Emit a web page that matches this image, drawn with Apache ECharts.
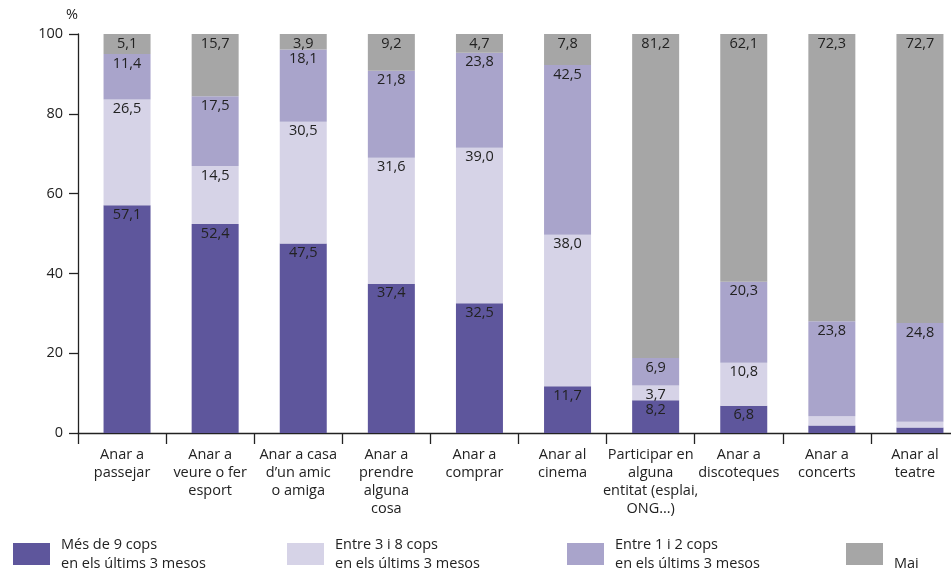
<!DOCTYPE html>
<html>
<head>
<meta charset="utf-8">
<script src="https://cdn.jsdelivr.net/npm/echarts@6/dist/echarts.min.js"></script>
<style>html,body{margin:0;padding:0;background:#fff;}#c{width:951px;height:570px;}</style>
</head>
<body>
<div id="c"></div>
<script>
var categories = [
  "Anar a\npassejar",
  "Anar a\nveure o fer\nesport",
  "Anar a casa\nd\u2019un amic\no amiga",
  "Anar a\nprendre\nalguna\ncosa",
  "Anar a\ncomprar",
  "Anar al\ncinema",
  "Participar en\nalguna\nentitat (esplai,\nONG...)",
  "Anar a\ndiscoteques",
  "Anar a\nconcerts",
  "Anar al\nteatre"
];
var seriesNames = [
  "Més de 9 cops\nen els últims 3 mesos",
  "Entre 3 i 8 cops\nen els últims 3 mesos",
  "Entre 1 i 2 cops\nen els últims 3 mesos",
  "\nMai"
];
var mesDe9 = [57.1, 52.4, 47.5, 37.4, 32.5, 11.7, 8.2, 6.8, 1.9, 1.4];
var entre3i8 = [26.5, 14.5, 30.5, 31.6, 39.0, 38.0, 3.7, 10.8, 2.3, 1.4];
var entre1i2 = [11.4, 17.5, 18.1, 21.8, 23.8, 42.5, 6.9, 20.3, 23.8, 24.8];
var mai = [5.1, 15.7, 3.9, 9.2, 4.7, 7.8, 81.2, 62.1, 72.3, 72.7];
var yTicks = [0, 20, 40, 60, 80, 100];

var colors = ["#5e569c", "#d6d3e7", "#a9a4cb", "#a6a6a6"];
var FONT = "Open Sans";
var values = [mesDe9, entre3i8, entre1i2, mai];

var chart = echarts.init(document.getElementById('c'), null, {renderer: 'canvas'});
var series = values.map(function (arr, i) {
  return {
    name: seriesNames[i],
    type: 'bar',
    stack: 'total',
    xAxisIndex: 1,
    yAxisIndex: 1,
    data: arr,
    barWidth: 47,
    itemStyle: {color: colors[i]},
    label: {
      show: true,
      position: 'insideTop',
      distance: 2,
      color: '#222',
      fontFamily: FONT,
      fontSize: 14.5,
      formatter: function (p) {
        return p.value < 3 ? '' : p.value.toFixed(1).replace('.', ',');
      }
    }
  };
});

var legendLefts = [13, 287, 567, 846];
var legends = seriesNames.map(function (n, i) {
  return {
    data: [n],
    left: legendLefts[i],
    top: 535,
    padding: 0,
    itemWidth: 37,
    itemHeight: 22,
    itemGap: 10,
    icon: 'rect',
    textStyle: {fontFamily: FONT, fontSize: 14.5, color: '#222', lineHeight: 19, padding: [0, 0, 0, 6]},
    selectedMode: false
  };
});

chart.setOption({
  animation: false,
  grid: [
    {left: 78, width: 881, top: 34, bottom: 137, containLabel: false, outerBoundsMode: 'none'},
    {left: 83, width: 881, top: 34, bottom: 137, containLabel: false, outerBoundsMode: 'none'}
  ],
  legend: legends,
  xAxis: [{
    type: 'category',
    gridIndex: 0,
    data: categories,
    axisLine: {lineStyle: {color: '#222', width: 1.3}},
    axisTick: {show: true, length: 11, lineStyle: {color: '#222', width: 1.3}},
    axisLabel: {interval: 0, color: '#222', fontFamily: FONT, fontSize: 14.5, lineHeight: 18, margin: 13}
  }, {
    type: 'category',
    gridIndex: 1,
    data: categories,
    show: false
  }],
  yAxis: [{
    type: 'value',
    gridIndex: 0,
    min: 0,
    max: 100,
    interval: 20,
    name: '%',
    nameLocation: 'end',
    nameGap: 12,
    nameTextStyle: {color: '#222', fontFamily: FONT, fontSize: 14.5, padding: [0, 12, 0, 0]},
    axisLine: {show: true, lineStyle: {color: '#222', width: 1.3}},
    axisTick: {show: true, length: 9, lineStyle: {color: '#222', width: 1.3}},
    splitLine: {show: false},
    axisLabel: {color: '#222', fontFamily: FONT, fontSize: 14.5, margin: 15,
      formatter: function (v) { return yTicks.indexOf(v) >= 0 ? String(v) : ''; }}
  }, {
    type: 'value',
    gridIndex: 1,
    min: 0,
    max: 100,
    show: false,
    splitLine: {show: false}
  }],
  series: series
});
</script>
</body>
</html>
